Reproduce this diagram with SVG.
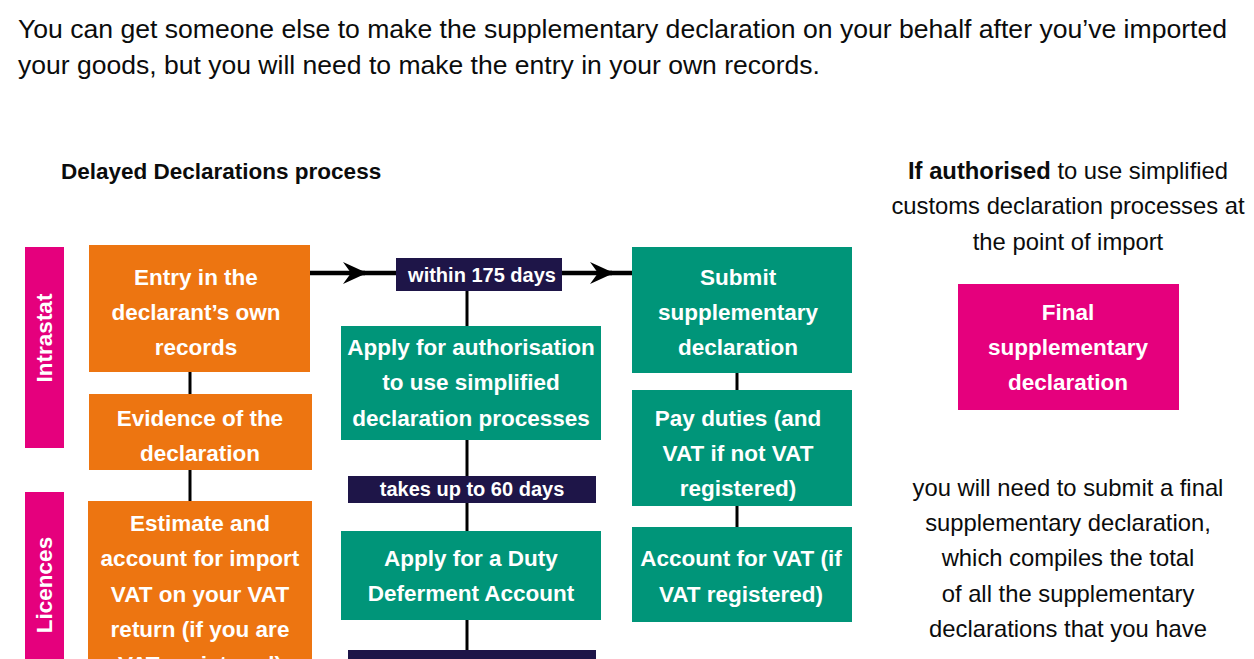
<svg xmlns="http://www.w3.org/2000/svg" width="1254" height="659" viewBox="0 0 1254 659">
<defs>
<style>
.body{font-family:"Liberation Sans",Arial,sans-serif;font-size:25px;fill:#0b0c0c}
.head{font-family:"Liberation Sans",Arial,sans-serif;font-size:22.5px;font-weight:bold;fill:#0b0c0c}
.side{font-family:"Liberation Sans",Arial,sans-serif;font-size:23.8px;fill:#0b0c0c;text-anchor:middle}
.lbl{font-family:"Liberation Sans",Arial,sans-serif;font-size:22.5px;font-weight:bold;fill:#ffffff;text-anchor:middle}
.tag{font-family:"Liberation Sans",Arial,sans-serif;font-size:20px;font-weight:bold;fill:#ffffff;text-anchor:middle}
.orange{fill:#ED7511}
.green{fill:#009579}
.pink{fill:#E5007D}
.navy{fill:#1E1548}
.conn{stroke:#000;stroke-width:3;fill:none}
.main{stroke:#000;stroke-width:4.5;fill:none}
</style>
<marker id="arr" viewBox="0 0 24 22" refX="22" refY="11" markerWidth="24" markerHeight="22" markerUnits="userSpaceOnUse" orient="auto">
<path d="M0,0 L24,11 L0,22 L8,11 Z" fill="#000"/>
</marker>
</defs>
<rect width="1254" height="659" fill="#ffffff"/>

<text class="body" x="18" y="38" textLength="1209" lengthAdjust="spacingAndGlyphs">You can get someone else to make the supplementary declaration on your behalf after you’ve imported</text>
<text class="body" x="18" y="74" textLength="802" lengthAdjust="spacingAndGlyphs">your goods, but you will need to make the entry in your own records.</text>

<text class="head" x="61" y="179">Delayed Declarations process</text>

<g id="connectors">
<line class="main" x1="310" y1="273" x2="365" y2="273" marker-end="url(#arr)"/>
<line class="main" x1="360" y1="273" x2="612" y2="273" marker-end="url(#arr)"/>
<line class="main" x1="605" y1="273" x2="633" y2="273"/>
<line class="conn" x1="190" y1="372" x2="190" y2="394"/>
<line class="conn" x1="190" y1="470" x2="190" y2="501"/>
<line class="conn" x1="467" y1="290" x2="467" y2="326"/>
<line class="conn" x1="467" y1="440" x2="467" y2="477"/>
<line class="conn" x1="467" y1="503" x2="467" y2="531"/>
<line class="conn" x1="467" y1="620" x2="467" y2="651"/>
<line class="conn" x1="737" y1="373" x2="737" y2="390"/>
<line class="conn" x1="737" y1="506" x2="737" y2="527"/>
</g>

<g id="intrastat">
<rect class="pink" x="25" y="247" width="39" height="201"/>
<text class="lbl" transform="translate(52,338) rotate(-90)">Intrastat</text>
</g>
<g id="licences">
<rect class="pink" x="25" y="492" width="39" height="180"/>
<text class="lbl" transform="translate(52,585) rotate(-90)">Licences</text>
</g>

<g id="entry">
<rect class="orange" x="89" y="245" width="221" height="127"/>
<text class="lbl" x="196" y="285">Entry in the</text>
<text class="lbl" x="196" y="320">declarant’s own</text>
<text class="lbl" x="196" y="355">records</text>
</g>
<g id="evidence">
<rect class="orange" x="89" y="394" width="223" height="76"/>
<text class="lbl" x="200" y="426">Evidence of the</text>
<text class="lbl" x="200" y="461">declaration</text>
</g>
<g id="estimate">
<rect class="orange" x="88" y="501" width="224" height="180"/>
<text class="lbl" x="200" y="531">Estimate and</text>
<text class="lbl" x="200" y="566">account for import</text>
<text class="lbl" x="200" y="602">VAT on your VAT</text>
<text class="lbl" x="200" y="637">return (if you are</text>
<text class="lbl" x="200" y="672">VAT registered)</text>
</g>

<g id="within175">
<rect class="navy" x="396" y="258" width="166" height="33"/>
<text class="tag" x="482" y="282">within 175 days</text>
</g>
<g id="authorisation">
<rect class="green" x="341" y="326" width="260" height="114"/>
<text class="lbl" x="471" y="355">Apply for authorisation</text>
<text class="lbl" x="471" y="390">to use simplified</text>
<text class="lbl" x="471" y="426">declaration processes</text>
</g>
<g id="takes60">
<rect class="navy" x="348" y="476" width="248" height="27"/>
<text class="tag" x="472" y="496">takes up to 60 days</text>
</g>
<g id="dutydeferment">
<rect class="green" x="341" y="531" width="260" height="89"/>
<text class="lbl" x="471" y="566">Apply for a Duty</text>
<text class="lbl" x="471" y="601">Deferment Account</text>
</g>
<g id="takes2">
<rect class="navy" x="348" y="650" width="248" height="27"/>
</g>

<g id="submit">
<rect class="green" x="632" y="247" width="220" height="126"/>
<text class="lbl" x="738" y="285">Submit</text>
<text class="lbl" x="738" y="320">supplementary</text>
<text class="lbl" x="738" y="355">declaration</text>
</g>
<g id="payduties">
<rect class="green" x="632" y="390" width="220" height="116"/>
<text class="lbl" x="738" y="426">Pay duties (and</text>
<text class="lbl" x="738" y="461">VAT if not VAT</text>
<text class="lbl" x="738" y="496">registered)</text>
</g>
<g id="accountvat">
<rect class="green" x="632" y="527" width="220" height="95"/>
<text class="lbl" x="741" y="566">Account for VAT (if</text>
<text class="lbl" x="741" y="602">VAT registered)</text>
</g>

<g id="authorised-note">
<text class="side" x="1068" y="179"><tspan font-weight="bold">If authorised</tspan> to use simplified</text>
<text class="side" x="1068" y="214">customs declaration processes at</text>
<text class="side" x="1068" y="250">the point of import</text>
</g>
<g id="finalsupp">
<rect class="pink" x="958" y="284" width="221" height="126"/>
<text class="lbl" x="1068" y="320">Final</text>
<text class="lbl" x="1068" y="355">supplementary</text>
<text class="lbl" x="1068" y="390">declaration</text>
</g>
<g id="final-note">
<text class="side" x="1068" y="496">you will need to submit a final</text>
<text class="side" x="1068" y="531">supplementary declaration,</text>
<text class="side" x="1068" y="566">which compiles the total</text>
<text class="side" x="1068" y="602">of all the supplementary</text>
<text class="side" x="1068" y="637">declarations that you have</text>
</g>
</svg>
